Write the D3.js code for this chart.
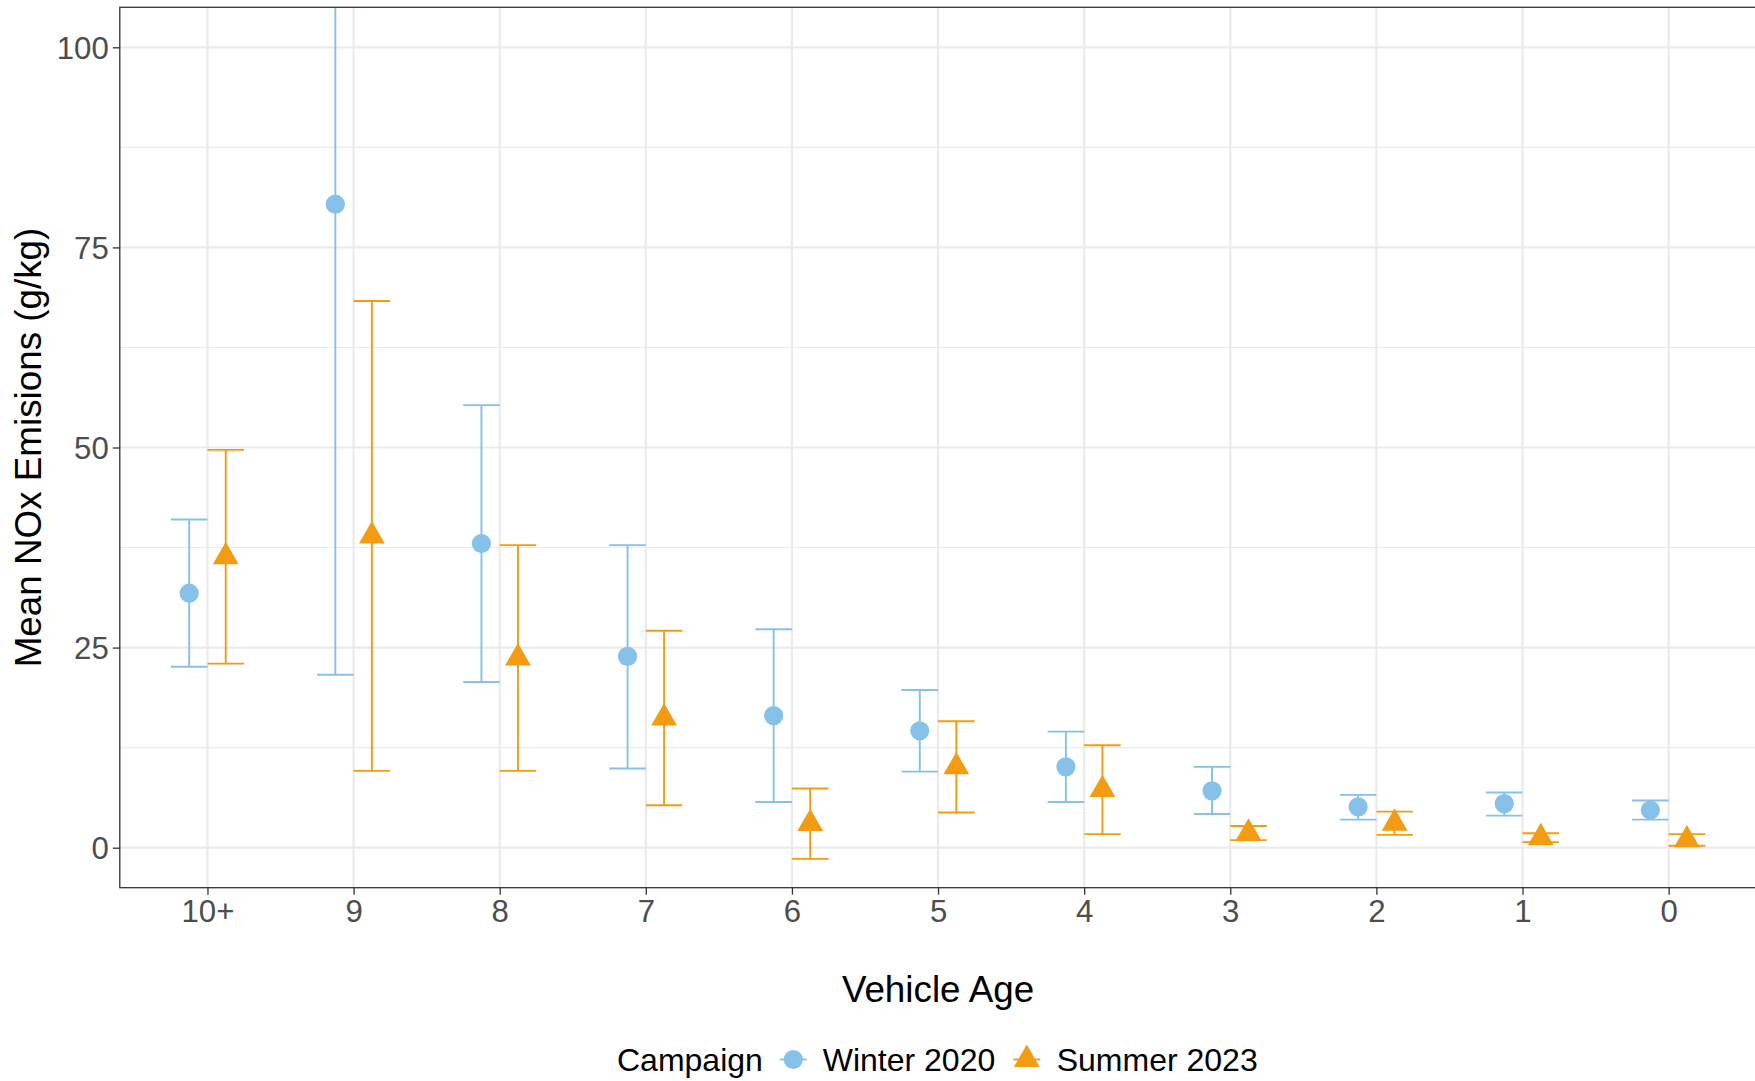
<!DOCTYPE html>
<html>
<head>
<meta charset="utf-8">
<script src="https://cdn.jsdelivr.net/npm/d3@7"></script>
<style>
  html, body { margin: 0; padding: 0; background: #fff; }
  svg { display: block; font-family: "Liberation Sans", Arial, sans-serif; }
</style>
</head>
<body>
<script>
// ---- data ----
const categories = ["10+", "9", "8", "7", "6", "5", "4", "3", "2", "1", "0"];
const seriesNames = ["Winter 2020", "Summer 2023"];
const seriesColors = ["#85C1E9", "#F39C12"];
const winterMean = [31.8, 80.4, 38.0, 23.9, 16.5, 14.6, 10.1, 7.1, 5.1, 5.5, 4.7];
const winterLow  = [22.6, 21.6, 20.7, 9.9, 5.7, 9.5, 5.7, 4.2, 3.5, 4.0, 3.5];
const winterHigh = [41.0, 139.2, 55.3, 37.8, 27.3, 19.7, 14.5, 10.1, 6.6, 6.9, 5.9];
const summerMean = [36.35, 38.95, 23.7, 16.2, 3.0, 10.1, 7.25, 1.83, 3.05, 1.25, 0.98];
const summerLow  = [23.0, 9.6, 9.6, 5.3, -1.4, 4.4, 1.7, 0.95, 1.6, 0.7, 0.25];
const summerHigh = [49.7, 68.3, 37.8, 27.1, 7.4, 15.8, 12.8, 2.7, 4.5, 1.8, 1.7];
const yTicks = [0, 25, 50, 75, 100];
const yMinor = [12.5, 37.5, 62.5, 87.5];
const xTitle = "Vehicle Age";
const yTitle = "Mean NOx Emisions (g/kg)";
const legendTitle = "Campaign";

// ---- layout ----
const W = 1755, H = 1081;
const panel = { left: 119.8, right: 1756.3, top: 7.3, bottom: 887.7 };

const svg = d3.select("body").append("svg").attr("width", W).attr("height", H);

const x = d3.scalePoint().domain(categories).range([panel.left, panel.right]).padding(0.6);
const y = d3.scaleLinear().domain([-5, 105]).range([panel.bottom, panel.top]);
const step = x.step();
const dodge = 0.125 * step;
const capHalf = 0.125 * step;

// clip
svg.append("defs").append("clipPath").attr("id", "clip")
  .append("rect").attr("x", panel.left).attr("y", panel.top)
  .attr("width", panel.right - panel.left).attr("height", panel.bottom - panel.top);

// grid
const grid = svg.append("g");
grid.selectAll(".ymin").data(yMinor).join("line")
  .attr("x1", panel.left).attr("x2", panel.right)
  .attr("y1", d => y(d)).attr("y2", d => y(d))
  .attr("stroke", "#EBEBEB").attr("stroke-width", 1.1);
grid.selectAll(".ymaj").data(yTicks).join("line")
  .attr("x1", panel.left).attr("x2", panel.right)
  .attr("y1", d => y(d)).attr("y2", d => y(d))
  .attr("stroke", "#EBEBEB").attr("stroke-width", 2.2);
grid.selectAll(".xmaj").data(categories).join("line")
  .attr("x1", d => x(d)).attr("x2", d => x(d))
  .attr("y1", panel.top).attr("y2", panel.bottom)
  .attr("stroke", "#EBEBEB").attr("stroke-width", 2.2);

// series
const series = [
  { name: seriesNames[0], color: seriesColors[0], mean: winterMean, lo: winterLow, hi: winterHigh, off: -dodge, shape: d3.symbolCircle, size: Math.PI * 9.6 * 9.6 },
  { name: seriesNames[1], color: seriesColors[1], mean: summerMean, lo: summerLow, hi: summerHigh, off: dodge, shape: d3.symbolTriangle, size: 7.45 * 7.45 * 3 * Math.sqrt(3) }
];

const plot = svg.append("g").attr("clip-path", "url(#clip)");
series.forEach(s => {
  const g = plot.append("g");
  const rows = categories.map((c, i) => ({ c, m: s.mean[i], lo: s.lo[i], hi: s.hi[i] }));
  g.selectAll(".v").data(rows).join("line")
    .attr("x1", d => x(d.c) + s.off).attr("x2", d => x(d.c) + s.off)
    .attr("y1", d => y(d.lo)).attr("y2", d => y(d.hi))
    .attr("stroke", s.color).attr("stroke-width", 1.9);
  g.selectAll(".ch").data(rows).join("line")
    .attr("x1", d => x(d.c) + s.off - capHalf).attr("x2", d => x(d.c) + s.off + capHalf)
    .attr("y1", d => y(d.hi)).attr("y2", d => y(d.hi))
    .attr("stroke", s.color).attr("stroke-width", 1.9);
  g.selectAll(".cl").data(rows).join("line")
    .attr("x1", d => x(d.c) + s.off - capHalf).attr("x2", d => x(d.c) + s.off + capHalf)
    .attr("y1", d => y(d.lo)).attr("y2", d => y(d.lo))
    .attr("stroke", s.color).attr("stroke-width", 1.9);
  g.selectAll(".pt").data(rows).join("path")
    .attr("d", d3.symbol().type(s.shape).size(s.size))
    .attr("transform", d => `translate(${x(d.c) + s.off},${y(d.m)})`)
    .attr("fill", s.color);
});

// panel border
svg.append("rect").attr("x", panel.left).attr("y", panel.top)
  .attr("width", panel.right - panel.left).attr("height", panel.bottom - panel.top)
  .attr("fill", "none").attr("stroke", "#333333").attr("stroke-width", 1.3);

// axes
const yAxis = svg.append("g").attr("transform", `translate(${panel.left},0)`)
  .call(d3.axisLeft(y).tickValues(yTicks).tickSize(7).tickPadding(4).tickFormat(d3.format("d")));
const xAxis = svg.append("g").attr("transform", `translate(0,${panel.bottom})`)
  .call(d3.axisBottom(x).tickSize(7).tickPadding(4));
[yAxis, xAxis].forEach(a => {
  a.select(".domain").remove();
  a.selectAll(".tick line").attr("stroke", "#333333").attr("stroke-width", 1.3);
  a.selectAll(".tick text").attr("fill", "#4D4D4D")
    .style("font-size", "31.2px").style("font-family", "Liberation Sans, Arial, sans-serif");
});
yAxis.selectAll(".tick text").attr("dy", "0.35em");
xAxis.selectAll(".tick text").attr("dy", "0.74em");

// axis titles
svg.append("text").attr("x", (panel.left + panel.right) / 2).attr("y", 1001.5)
  .attr("text-anchor", "middle").attr("fill", "#000")
  .style("font-size", "36.8px").text(xTitle);
svg.append("text").attr("transform", `translate(41,${(panel.top + panel.bottom) / 2}) rotate(-90)`)
  .attr("text-anchor", "middle").attr("fill", "#000")
  .style("font-size", "36.8px").text(yTitle);

// legend
const lg = svg.append("g");
const legY = 1059.5;
lg.append("text").attr("x", 617).attr("y", 1071).attr("fill", "#000")
  .style("font-size", "32px").text(legendTitle);
const keyX = [793.3, 1026.8];
const labX = [822.7, 1056.7];
series.forEach((s, i) => {
  lg.append("line").attr("x1", keyX[i] - 13.5).attr("x2", keyX[i] + 13.5)
    .attr("y1", legY).attr("y2", legY).attr("stroke", s.color).attr("stroke-width", 1.9);
  lg.append("path").attr("d", d3.symbol().type(s.shape).size(s.size)())
    .attr("transform", `translate(${keyX[i]},${legY})`).attr("fill", s.color);
  lg.append("text").attr("x", labX[i]).attr("y", 1071).attr("fill", "#000")
    .style("font-size", "32px").text(s.name);
});
</script>
</body>
</html>
